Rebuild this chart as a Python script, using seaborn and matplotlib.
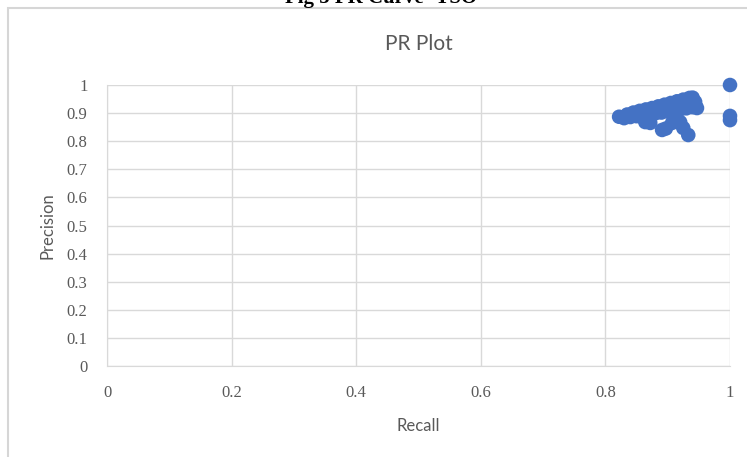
import numpy as np
import pandas as pd
import matplotlib
matplotlib.use("Agg")
import matplotlib.pyplot as plt
from matplotlib.patches import Rectangle
import seaborn as sns

# PR 散点数据
recall = [0.822, 0.835, 0.845, 0.855, 0.865, 0.875, 0.885, 0.895, 0.905, 0.915, 0.925, 0.935, 0.940,
          0.830, 0.840, 0.850, 0.860, 0.870, 0.880, 0.890, 0.900, 0.910, 0.920, 0.930, 0.940, 0.945,
          0.944, 0.947, 0.925,
          0.864, 0.872, 0.891, 0.897, 0.907, 0.920, 0.925, 0.933,
          1.0, 1.0, 1.0]
precision = [0.887, 0.895, 0.902, 0.908, 0.913, 0.918, 0.924, 0.930, 0.936, 0.942, 0.948, 0.954, 0.955,
             0.882, 0.886, 0.889, 0.892, 0.896, 0.899, 0.902, 0.906, 0.910, 0.913, 0.917, 0.921, 0.925,
             0.940, 0.918, 0.930,
             0.868, 0.865, 0.840, 0.845, 0.865, 0.868, 0.847, 0.822,
             1.0, 0.890, 0.875]
x_ticks = [0, 0.2, 0.4, 0.6, 0.8, 1]
y_ticks = [0, 0.1, 0.2, 0.3, 0.4, 0.5, 0.6, 0.7, 0.8, 0.9, 1]

df = pd.DataFrame({"Recall": recall, "Precision": precision})

sns.set_style("whitegrid")
grey = "#595959"
gridc = "#d9d9d9"

fig = plt.figure(figsize=(7.47, 4.57), dpi=100)
ax = fig.add_axes([107 / 747, 1 - 366 / 457, 623 / 747, 281 / 457])

sns.scatterplot(data=df, x="Recall", y="Precision", ax=ax, color="#4472C4",
                s=110, edgecolor="none", linewidth=0, zorder=3, clip_on=False)

ax.set_xlim(0, 1)
ax.set_ylim(0, 1)
ax.set_xticks(x_ticks)
ax.set_yticks(y_ticks)
ax.set_xticklabels([f"{t:g}" for t in x_ticks])
ax.set_yticklabels([f"{t:g}" for t in y_ticks])
ax.grid(True, color=gridc, linewidth=1)
for sp in ax.spines.values():
    sp.set_visible(False)
ax.spines["left"].set_visible(True)
ax.spines["bottom"].set_visible(True)
ax.spines["left"].set_color(gridc)
ax.spines["bottom"].set_color(gridc)
ax.tick_params(axis="both", length=0, labelsize=12, labelcolor=grey)
ax.tick_params(axis="x", pad=14)
ax.tick_params(axis="y", pad=14)
for lab in ax.get_xticklabels() + ax.get_yticklabels():
    lab.set_family("Liberation Serif")

ax.set_xlabel("Recall", family="Lato", fontsize=12, color=grey, labelpad=12)
ax.set_ylabel("Precision", family="Lato", fontsize=12, color=grey, labelpad=8)
ax.set_title("PR Plot", family="Lato", fontsize=15, color=grey, pad=25)

# 外框 + 被截掉的图注
fig.patches.append(Rectangle((8 / 747, -0.01), 1, 1 - 8 / 457 + 0.01, transform=fig.transFigure,
                             fill=False, edgecolor="#d6d6d6", linewidth=1.5))
fig.text(381 / 747, 1 - 3 / 457, "Fig 5 PR Curve- TSO", family="Liberation Serif",
         fontweight="bold", fontsize=15, ha="center", va="baseline", color="black")

fig.savefig("out.png", dpi=100)
